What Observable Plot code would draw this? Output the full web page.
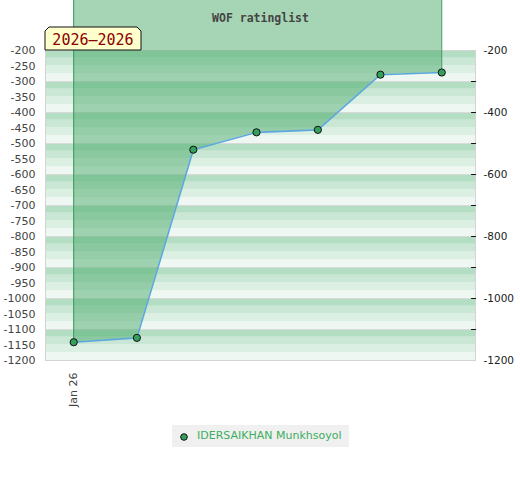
<!DOCTYPE html>
<html>
<head>
<meta charset="utf-8">
<script src="https://cdn.jsdelivr.net/npm/d3@7"></script>
<script src="https://cdn.jsdelivr.net/npm/@observablehq/plot@0.6"></script>
<style>
  body { margin: 0; background: #fff; font-family: "DejaVu Sans", sans-serif; }
  #wrap { position: relative; width: 520px; height: 480px; }
  #legend { position: absolute; left: 172px; top: 425px; width: 177px; height: 22px; background: #f0f0f0;
            font: 11px "DejaVu Sans", sans-serif; color: #3cae5e; }
  #legend svg { position: absolute; left: 7px; top: 7px; }
  #legend span { position: absolute; left: 25px; top: 4px; white-space: nowrap; }
</style>
</head>
<body>
<div id="wrap">
  <div id="chart"></div>
  <div id="legend"></div>
</div>
<script>
// ---- data ----
const title = "WOF ratinglist";
const rangeLabel = "2026–2026";
const playerName = "IDERSAIKHAN Munkhsoyol";
const xPositions = [0, 1.03, 1.95, 2.98, 3.98, 5.0, 6.0];
const ratings = [-1141, -1127, -520, -464, -456, -278, -271];
const xTickValues = [0];
const xTickLabels = ["Jan 26"];
const leftTicks = d3.range(-1200, -199, 50);
const rightMinorTicks = d3.range(-1100, -299, 100);
const rightLabelTicks = [-1200, -1000, -800, -600, -400, -200];
const yDomain = [-1200, -200];
const xDomain = [-0.46, 6.55];
const stripeColors = ["#b4dec3", "#c9e7d4", "#dcefe3", "#eff7f2"];

// ---- layout ----
const width = 520, height = 415;
const marginTop = 50, marginBottom = 55, marginLeft = 45, marginRight = 45;

const data = xPositions.map((x, i) => ({x, v: ratings[i]}));
const bandStep = 25;
const bands = d3.range(yDomain[0], yDomain[1], bandStep);
const gridLines = d3.range(yDomain[0] + 100, yDomain[1], 100);
// value at the very top of the svg (area extends up to the edge)
const yTop = yDomain[1] + marginTop * (yDomain[1] - yDomain[0]) / (height - marginTop - marginBottom);
const first = data[0], last = data[data.length - 1];

const tickShape = {draw(context, l) { context.moveTo(0, 0); context.lineTo(0, -l); }};

const chart = Plot.plot({
  width, height, marginTop, marginBottom, marginLeft, marginRight,
  style: {background: "#fff", fontFamily: "DejaVu Sans, sans-serif"},
  x: {domain: xDomain, axis: null},
  y: {domain: yDomain, axis: null},
  color: {type: "identity"},
  marks: [
    Plot.rect(bands, {
      y1: d => d, y2: d => d + bandStep,
      fill: d => stripeColors[(((yDomain[1] - (d + bandStep)) / bandStep) % 4 + 4) % 4]
    }),
    Plot.ruleY(gridLines, {stroke: "#dadada", strokeWidth: 1}),
    Plot.frame({stroke: "#d4d4d4"}),
    Plot.areaY(data, {x: "x", y1: "v", y2: () => yTop, fill: "#4bab6b", fillOpacity: 0.5}),
    Plot.ruleX([first, last], {x: "x", y1: "v", y2: () => yTop, stroke: "#3a9a5a", strokeWidth: 1}),
    Plot.line(data, {x: "x", y: "v", stroke: "#5ba6dc", strokeWidth: 1.6}),
    Plot.dot(data, {x: "x", y: "v", r: 3.6, fill: "#35a05c", stroke: "#111", strokeWidth: 1}),
    Plot.axisY({anchor: "left", label: null, ticks: leftTicks, tickSize: 0, tickPadding: 10,
      fontSize: 11, fill: "#444", tickFormat: d => String(d)}),
    Plot.vector(rightMinorTicks, {y: d => d, frameAnchor: "right", length: 4, rotate: -90,
      anchor: "start", stroke: "#111", strokeWidth: 1.2, shape: tickShape}),
    Plot.axisY({anchor: "right", label: null, ticks: rightLabelTicks, tickSize: 0, tickPadding: 8,
      fontSize: 10.5, fill: "#222", tickFormat: d => String(d)}),
    Plot.axisX({label: null, ticks: xTickValues, tickFormat: (d, i) => xTickLabels[i], tickRotate: -90,
      tickSize: 0, tickPadding: 12, fontSize: 11, fill: "#444"}),
    Plot.text([title], {frameAnchor: "top", dy: -37, fontFamily: "DejaVu Sans Mono, monospace",
      fontWeight: "bold", fontSize: 11.5, fill: "#444", text: d => d})
  ]
});
document.getElementById("chart").appendChild(chart);

// yellow period label box
const svg = d3.select(chart);
const bx = marginLeft, by = marginTop - 23, bw = 96, bh = 23, c = 4;
const g = svg.append("g");
g.append("polygon")
  .attr("points", [[bx, by + bh], [bx, by + c], [bx + c, by], [bx + bw - c, by], [bx + bw, by + c], [bx + bw, by + bh]].map(p => p.join(",")).join(" "))
  .attr("fill", "#ffffcc").attr("stroke", "#111").attr("stroke-width", 1);
g.append("text").text(rangeLabel)
  .attr("x", bx + bw / 2).attr("y", by + 18)
  .attr("text-anchor", "middle")
  .attr("font-family", "DejaVu Sans Mono, monospace")
  .attr("font-size", 15).attr("fill", "#8b0000");

// legend
const legend = d3.select("#legend");
const ls = legend.append("svg").attr("width", 10).attr("height", 10);
ls.append("circle").attr("cx", 5).attr("cy", 5).attr("r", 3.3).attr("fill", "#35a05c").attr("stroke", "#111").attr("stroke-width", 1);
legend.append("span").text(playerName);
</script>
</body>
</html>
